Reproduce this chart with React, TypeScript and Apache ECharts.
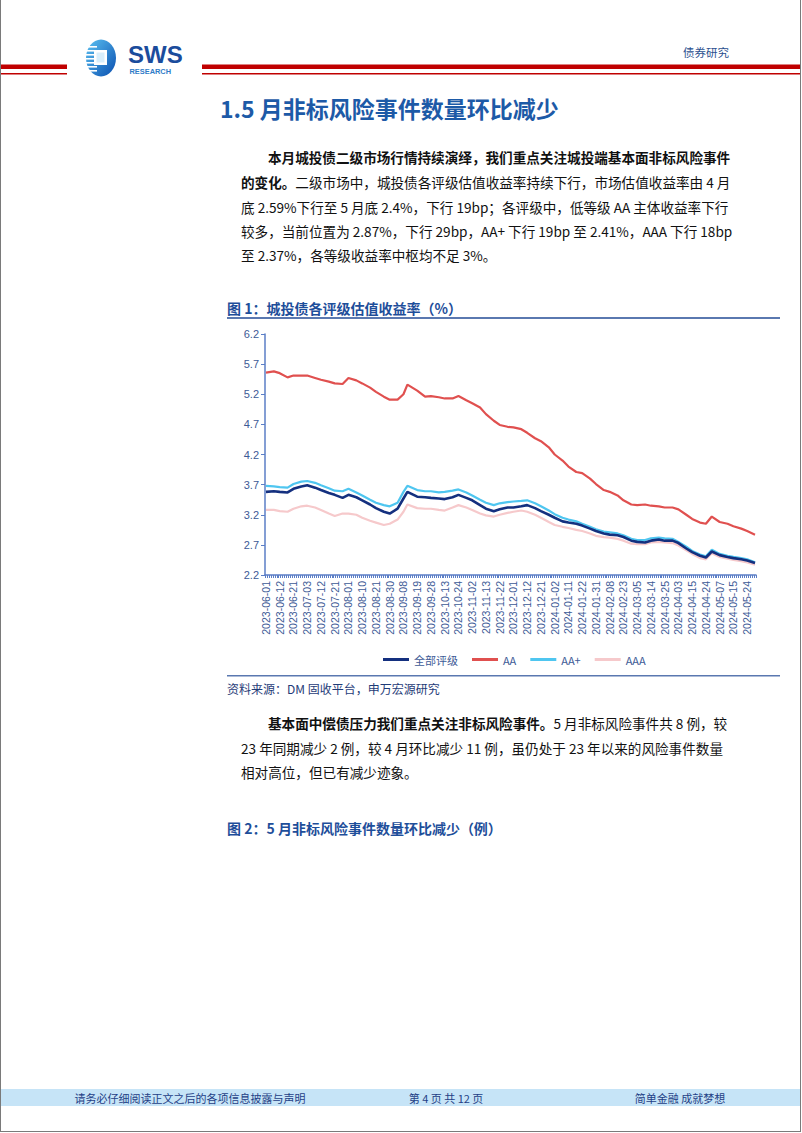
import React, { useEffect, useRef } from "react";
import * as echarts from "echarts";

// x-axis tick labels (every 7th trading day)
const tickLabels = [
  "2023-06-01", "2023-06-12", "2023-06-21", "2023-07-03", "2023-07-12", "2023-07-21",
  "2023-08-01", "2023-08-10", "2023-08-21", "2023-08-30", "2023-09-08", "2023-09-19",
  "2023-09-28", "2023-10-13", "2023-10-24", "2023-11-02", "2023-11-13", "2023-11-22",
  "2023-12-01", "2023-12-12", "2023-12-21", "2024-01-02", "2024-01-11", "2024-01-22",
  "2024-01-31", "2024-02-08", "2024-02-23", "2024-03-05", "2024-03-14", "2024-03-25",
  "2024-04-03", "2024-04-15", "2024-04-24", "2024-05-07", "2024-05-15", "2024-05-24",
];
const totalDays = 250;

// trading-day index of each sampled value
const sampleDay = [
  0, 4, 7, 11, 14, 18, 21, 25, 28, 32,
  35, 39, 42, 46, 49, 53, 56, 60, 63, 67,
  70, 72, 77, 81, 84, 88, 91, 95, 98, 102,
  105, 109, 112, 116, 119, 123, 126, 130, 133, 137,
  140, 144, 147, 151, 154, 158, 161, 165, 168, 172,
  175, 179, 182, 186, 189, 193, 196, 200, 203, 207,
  210, 214, 217, 221, 224, 227, 231, 235, 238, 242,
  245, 249,
];

const seriesAll = [
  3.58, 3.59, 3.58, 3.57, 3.63, 3.67, 3.69, 3.65, 3.61, 3.56,
  3.53, 3.48, 3.53, 3.49, 3.44, 3.37, 3.31, 3.25, 3.22, 3.30,
  3.47, 3.58, 3.50, 3.49, 3.48, 3.47, 3.46, 3.49, 3.53, 3.48,
  3.44, 3.36, 3.30, 3.26, 3.29, 3.32, 3.32, 3.34, 3.36, 3.31,
  3.26, 3.20, 3.15, 3.09, 3.07, 3.05, 3.02, 2.97, 2.93, 2.89,
  2.87, 2.86, 2.83, 2.77, 2.75, 2.74, 2.77, 2.79, 2.77, 2.77,
  2.73, 2.64, 2.58, 2.52, 2.49, 2.59, 2.53, 2.50, 2.48, 2.46,
  2.44, 2.40,
];
const seriesAA = [
  5.56, 5.58, 5.55, 5.48, 5.51, 5.51, 5.51, 5.47, 5.44, 5.41,
  5.38, 5.37, 5.47, 5.43, 5.38, 5.31, 5.24, 5.16, 5.11, 5.11,
  5.20, 5.36, 5.26, 5.16, 5.17, 5.15, 5.13, 5.13, 5.17, 5.10,
  5.05, 4.98, 4.87, 4.76, 4.69, 4.66, 4.65, 4.62, 4.56, 4.47,
  4.42, 4.32, 4.20, 4.10, 4.00, 3.91, 3.89, 3.80, 3.71, 3.61,
  3.58, 3.52, 3.44, 3.37, 3.36, 3.37, 3.35, 3.34, 3.32, 3.32,
  3.29, 3.20, 3.13, 3.07, 3.05, 3.17, 3.08, 3.05, 3.01, 2.97,
  2.93, 2.87,
];
const seriesAAplus = [
  3.68, 3.67, 3.66, 3.65, 3.71, 3.75, 3.76, 3.73, 3.69, 3.64,
  3.60, 3.59, 3.63, 3.57, 3.52, 3.45, 3.40, 3.36, 3.34, 3.40,
  3.58, 3.68, 3.61, 3.59, 3.59, 3.57, 3.58, 3.60, 3.62, 3.57,
  3.52, 3.45, 3.40, 3.36, 3.39, 3.41, 3.42, 3.43, 3.44, 3.39,
  3.34, 3.27, 3.21, 3.15, 3.12, 3.09, 3.05, 3.00, 2.96, 2.92,
  2.91, 2.89, 2.86, 2.80, 2.78, 2.78, 2.81, 2.82, 2.81, 2.80,
  2.75, 2.67, 2.60, 2.54, 2.51, 2.62, 2.55, 2.52, 2.50, 2.48,
  2.46, 2.41,
];
const seriesAAA = [
  3.28, 3.28, 3.26, 3.25, 3.30, 3.34, 3.35, 3.32, 3.28, 3.22,
  3.18, 3.22, 3.22, 3.20, 3.15, 3.10, 3.07, 3.03, 3.05, 3.12,
  3.25, 3.37, 3.31, 3.30, 3.30, 3.28, 3.27, 3.32, 3.36, 3.32,
  3.28, 3.22, 3.19, 3.17, 3.20, 3.23, 3.25, 3.27, 3.25, 3.20,
  3.15, 3.08, 3.03, 3.00, 2.98, 2.95, 2.93, 2.89, 2.85, 2.83,
  2.82, 2.80, 2.77, 2.72, 2.71, 2.71, 2.74, 2.75, 2.74, 2.73,
  2.69, 2.61, 2.55, 2.48, 2.46, 2.56, 2.50, 2.47, 2.45, 2.43,
  2.41, 2.37,
];

const seriesNames = ["全部评级", "AA", "AA+", "AAA"];
const seriesColors = ["#14307F", "#E0504F", "#4FC6F0", "#F6C9CB"];

const FONT = '"Noto Sans CJK SC", "Noto Sans", sans-serif';
const BLUE = "#1E4E9A";

function buildCategories() {
  const cats: string[] = [];
  for (let k = 0; k < tickLabels.length; k++) {
    for (let j = 0; j < 7; j++) {
      if (cats.length >= totalDays) break;
      cats.push(j === 0 ? tickLabels[k] : `${tickLabels[k]}+${j}`);
    }
  }
  return cats;
}

function text(x: number, y: number, t: string, style: any = {}) {
  return {
    type: "text",
    x,
    y,
    silent: true,
    style: {
      text: t,
      fill: "#111",
      fontFamily: FONT,
      fontSize: 13.6,
      textVerticalAlign: "middle",
      ...style,
    },
  };
}

const rich = {
  b: { fontWeight: "bold", fontSize: 13.6, fontFamily: FONT, fill: "#111", color: "#111" },
  n: { fontWeight: "normal", fontSize: 13.6, fontFamily: FONT, fill: "#111", color: "#111" },
};

export default function App() {
  const ref = useRef<HTMLDivElement>(null);
  useEffect(() => {
    if (!ref.current) return;
    const chart = echarts.init(ref.current, null, { renderer: "svg", width: 802, height: 1133 });
    const categories = buildCategories();
    const labelSet = new Set(tickLabels);
    const mk = (vals: number[]) => sampleDay.map((d, i) => [d, vals[i]]);
    const dataSets = [seriesAll, seriesAA, seriesAAplus, seriesAAA];
    const order = [3, 2, 1, 0];
    const series = order.map((i) => ({
      name: seriesNames[i],
      type: "line",
      data: mk(dataSets[i]),
      showSymbol: false,
      symbol: "none",
      z: 10 - i,
      lineStyle: { color: seriesColors[i], width: i === 0 ? 2.6 : 2.2 },
      itemStyle: { color: seriesColors[i] },
    }));

    const graphic: any[] = [
      // page border
      { type: "line", shape: { x1: 0.5, y1: 0, x2: 0.5, y2: 1131.5 }, style: { stroke: "#7a7a7a", lineWidth: 1 } },
      { type: "line", shape: { x1: 800.5, y1: 0, x2: 800.5, y2: 1131.5 }, style: { stroke: "#7a7a7a", lineWidth: 1 } },
      { type: "line", shape: { x1: 0, y1: 1131.5, x2: 801, y2: 1131.5 }, style: { stroke: "#7a7a7a", lineWidth: 1 } },
      // header red bars
      { type: "rect", shape: { x: 1, y: 64.5, width: 66, height: 4.5 }, style: { fill: "#C00000" } },
      { type: "rect", shape: { x: 1, y: 73, width: 66, height: 1.6 }, style: { fill: "#C00000" } },
      { type: "rect", shape: { x: 202, y: 64.5, width: 598, height: 4.5 }, style: { fill: "#C00000" } },
      { type: "rect", shape: { x: 202, y: 73, width: 598, height: 1.6 }, style: { fill: "#C00000" } },
      // logo
      {
        type: "ellipse",
        shape: { cx: 101, cy: 58, rx: 15, ry: 18.5 },
        style: {
          fill: new echarts.graphic.LinearGradient(0, 0, 1, 1, [
            { offset: 0, color: "#5CC2F2" },
            { offset: 1, color: "#0A4FB0" },
          ]),
        },
      },
      ...[46, 50, 54, 58, 62, 66, 70].map((y) => ({
        type: "rect",
        shape: { x: 85, y, width: 12, height: 1.6 },
        style: { fill: "#ffffff" },
      })),
      { type: "rect", shape: { x: 94, y: 50, width: 13, height: 15 }, style: { fill: "#ffffff" } },
      { type: "rect", shape: { x: 96.5, y: 52.5, width: 8, height: 10 }, style: { fill: "#D8EEFB" } },
      text(128, 54.5, "SWS", { fontFamily: '"Liberation Sans", Arial, sans-serif', fontWeight: "bold", fontSize: 24, fill: "#1B4C9C" }),
      text(129.5, 71, "RESEARCH", { fontFamily: '"Liberation Sans", Arial, sans-serif', fontWeight: "bold", fontSize: 7.4, fill: "#2F7CC8" }),
      text(683, 52, "债券研究", { fontSize: 11.5, fill: "#2B4F8F" }),
      // title
      text(220, 108, "1.5 月非标风险事件数量环比减少", { fontSize: 23, fontWeight: "bold", fill: "#1D5AA7" }),
      // paragraph 1
      text(268, 157, "本月城投债二级市场行情持续演绎，我们重点关注城投端基本面非标风险事件", { fontWeight: "bold" }),
      {
        type: "text",
        x: 241,
        y: 182,
        silent: true,
        style: {
          text: "{b|的变化。}{n|二级市场中，城投债各评级估值收益率持续下行，市场估值收益率由 4 月}",
          rich,
          fontFamily: FONT,
          fontSize: 13.6,
          textVerticalAlign: "middle",
        },
      },
      text(241, 207, "底 2.59%下行至 5 月底 2.4%，下行 19bp；各评级中，低等级 AA 主体收益率下行"),
      text(241, 231, "较多，当前位置为 2.87%，下行 29bp，AA+ 下行 19bp 至 2.41%，AAA 下行 18bp"),
      text(241, 255, "至 2.37%，各等级收益率中枢均不足 3%。"),
      // figure 1 caption
      text(227, 308, "图 1：城投债各评级估值收益率（%）", { fontWeight: "bold", fontSize: 14, fill: BLUE }),
      { type: "rect", shape: { x: 227, y: 317, width: 553, height: 2 }, style: { fill: "#5A78B0" } },
      // source
      { type: "rect", shape: { x: 227, y: 675, width: 553, height: 1.6 }, style: { fill: "#5A78B0" } },
      text(227, 688, "资料来源：DM 固收平台，申万宏源研究", { fontSize: 12, fill: "#1F3C78" }),
      // paragraph 2
      {
        type: "text",
        x: 268,
        y: 723,
        silent: true,
        style: {
          text: "{b|基本面中偿债压力我们重点关注非标风险事件。}{n|5 月非标风险事件共 8 例，较}",
          rich,
          fontFamily: FONT,
          fontSize: 13.6,
          textVerticalAlign: "middle",
        },
      },
      text(241, 748, "23 年同期减少 2 例，较 4 月环比减少 11 例，虽仍处于 23 年以来的风险事件数量"),
      text(241, 772, "相对高位，但已有减少迹象。"),
      // figure 2 caption
      text(227, 828, "图 2：5 月非标风险事件数量环比减少（例）", { fontWeight: "bold", fontSize: 14, fill: BLUE }),
      // footer band
      { type: "rect", shape: { x: 1, y: 1089, width: 799, height: 17 }, style: { fill: "#C6E4F7" } },
      text(190, 1097.5, "请务必仔细阅读正文之后的各项信息披露与声明", { fontSize: 11, fill: "#1F3F86", textAlign: "center" }),
      text(446, 1097.5, "第 4 页 共 12 页", { fontSize: 11, fill: "#1F3F86", textAlign: "center" }),
      text(680, 1097.5, "简单金融 成就梦想", { fontSize: 11, fill: "#1F3F86", textAlign: "center" }),
    ];

    const axisColor = "#5B7EC6";
    const labelColor = "#3D5A96";
    chart.setOption({
      animation: false,
      backgroundColor: "#ffffff",
      textStyle: { fontFamily: FONT },
      grid: { left: 265, top: 334, width: 491, height: 241, containLabel: false },
      legend: {
        data: seriesNames,
        left: 378,
        top: 649,
        icon: "rect",
        itemWidth: 26,
        itemHeight: 3,
        itemGap: 14,
        textStyle: { fontSize: 11, color: labelColor, fontFamily: FONT },
      },
      xAxis: {
        type: "category",
        data: categories,
        boundaryGap: true,
        axisLine: { lineStyle: { color: axisColor, width: 1.5 } },
        axisTick: { show: true, interval: 0, length: 3, lineStyle: { color: axisColor } },
        axisLabel: {
          interval: 6,
          rotate: 90,
          fontSize: 10.5,
          lineHeight: 11,
          margin: 6,
          hideOverlap: false,
          color: labelColor,
          fontFamily: '"Liberation Sans", Arial, sans-serif',
          formatter: (v: string) => (labelSet.has(v) ? v : ""),
        },
        splitLine: { show: false },
      },
      yAxis: {
        type: "value",
        min: 2.2,
        max: 6.2,
        interval: 0.5,
        axisLine: { show: true, lineStyle: { color: axisColor, width: 1.5 } },
        axisTick: { show: true, length: 4, lineStyle: { color: axisColor } },
        axisLabel: {
          fontSize: 11,
          margin: 6,
          color: labelColor,
          fontFamily: '"Liberation Sans", Arial, sans-serif',
          formatter: (v: number) => v.toFixed(1),
        },
        splitLine: { show: false },
      },
      series,
      graphic,
    });
    return () => chart.dispose();
  }, []);

  return (
    <div style={{ position: "absolute", left: 0, top: 0, width: 802, height: 1133, background: "#fff" }}>
      <div ref={ref} style={{ width: 802, height: 1133 }} />
    </div>
  );
}
